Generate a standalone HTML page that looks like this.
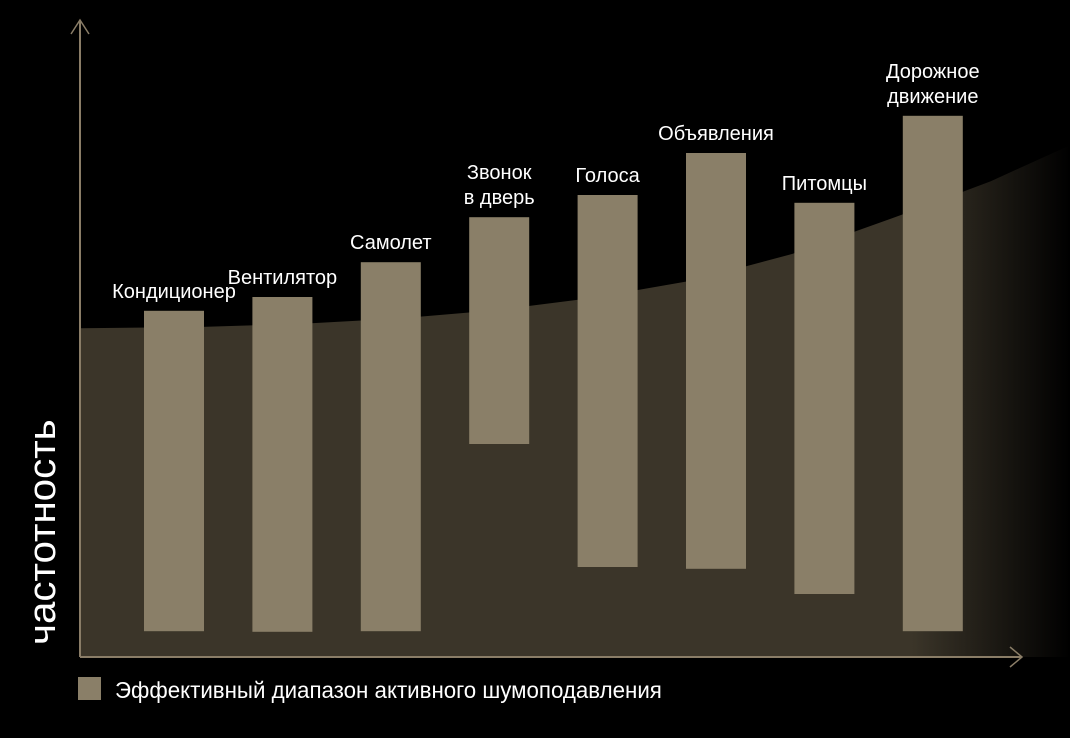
<!DOCTYPE html>
<html><head><meta charset="utf-8"><style>
html,body{margin:0;padding:0;background:#000;}
svg{display:block;}
text{font-family:"Liberation Sans","DejaVu Sans",sans-serif;fill:#fff;}
</style></head><body>
<svg id="chart" width="1070" height="738" viewBox="0 0 1070 738">
<defs>
<linearGradient id="fade" x1="0" x2="1" y1="0" y2="0">
<stop offset="0" stop-color="#3b3529"/>
<stop offset="0.84" stop-color="#3b3529"/>
<stop offset="1" stop-color="#000"/>
</linearGradient>
</defs>
<path id="area" fill="url(#fade)"></path>
<g id="bars"></g>
<line x1="80" y1="657" x2="80" y2="20" stroke="#8a7d67" stroke-width="2"/>
<polyline points="71,34 80,20 89,34" fill="none" stroke="#8a7d67" stroke-width="1.5"/>
<line x1="80" y1="657" x2="1022" y2="657" stroke="#8a7d67" stroke-width="2"/>
<polyline points="1010,647 1022,657 1010,667" fill="none" stroke="#8a7d67" stroke-width="1.5"/>
<text transform="translate(55,645) rotate(-90) scale(1.06,1)" font-size="38">частотность</text>
<rect x="78" y="677" width="23" height="23" fill="#8a7f68"/>
<text transform="translate(115,698) scale(0.97,1)" font-size="23">Эффективный диапазон активного шумоподавления</text>
</svg>
<script>
const categories=["Кондиционер","Вентилятор","Самолет","Звонок в дверь","Голоса","Объявления","Питомцы","Дорожное движение"];
const labelLines=[["Кондиционер"],["Вентилятор"],["Самолет"],["Звонок","в дверь"],["Голоса"],["Объявления"],["Питомцы"],["Дорожное","движение"]];
const highValues=[57.7,60.0,65.8,73.3,77.0,84.0,75.7,90.2];
const lowValues=[4.3,4.2,4.3,35.5,15.0,14.7,10.5,4.3];
const curveX=[0,12,22,32,42,52,62,72,83,92,100];
const curveY=[54.8,55.0,55.5,56.4,57.8,59.9,62.8,67.2,73.7,79.3,85.3];
const NS="http://www.w3.org/2000/svg";
function yS(v){return 657-v*6;}
function xBand(i){return 144+i*108.4;}
function xC(p){return 80+p*9.9;}
let d="M80,657 ";
for(let i=0;i<curveX.length;i++){d+="L"+xC(curveX[i]).toFixed(1)+","+yS(curveY[i]).toFixed(1)+" ";}
d+="L1070,657 Z";
document.getElementById('area').setAttribute('d',d);
const g=document.getElementById('bars');
for(let i=0;i<categories.length;i++){
 const x=xBand(i),w=60,t=yS(highValues[i]),b=yS(lowValues[i]);
 const r=document.createElementNS(NS,'rect');
 r.setAttribute('x',x);r.setAttribute('y',t);r.setAttribute('width',w);r.setAttribute('height',b-t);
 r.setAttribute('fill','#8a7f68');
 
 
 g.appendChild(r);
 const lines=labelLines[i];
 for(let j=0;j<lines.length;j++){
  const tx=document.createElementNS(NS,'text');
  tx.setAttribute('x',x+w/2);
  tx.setAttribute('y',t-13-(lines.length-1-j)*25);
  tx.setAttribute('text-anchor','middle');
  tx.setAttribute('font-size','20');
  tx.textContent=lines[j];
  
  
  g.appendChild(tx);
 }
}
</script>
</body></html>
